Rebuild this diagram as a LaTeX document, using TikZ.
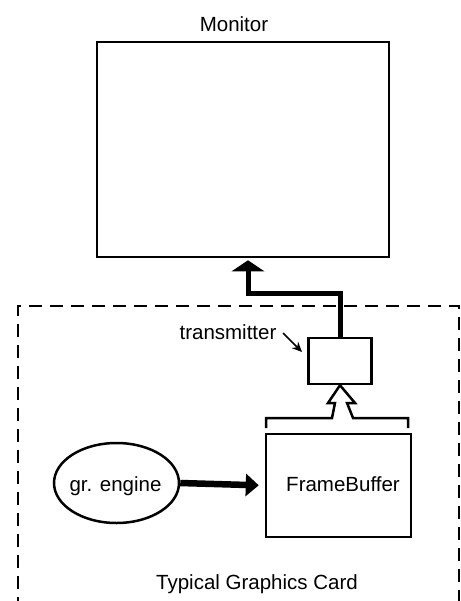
\documentclass[tikz,border=0pt]{standalone}
\usepackage{fontspec}
\setmainfont{Liberation Sans}
\usetikzlibrary{arrows.meta,shapes.geometric,calc}
\begin{document}
\begin{tikzpicture}[x=1pt,y=-1pt,
  every node/.style={font=\fontsize{20.5}{24}\selectfont, inner sep=0pt},
  boxstyle/.style={draw, line width=2.5pt, rectangle},
  lbl/.style={anchor=base},
  thickarrow/.style={line width=5pt, -{Triangle[width=32pt,length=11pt]}},
  feedarrow/.style={line width=6.5pt, -{Triangle[width=22pt,length=13pt]}},
  hollow/.style={draw, line width=2.5pt, line join=miter},
  border/.style={line width=2pt, dash pattern=on 13pt off 8pt}]
\useasboundingbox (0,0) rectangle (460,601);

% nodes
\node[boxstyle, minimum width=292pt, minimum height=215pt] (mon) at (243,149.5) {};
\node[lbl] (monlbl) at (234,32) {Monitor};
\node[boxstyle, minimum width=63pt, minimum height=46pt] (trans) at (340,361) {};
\node[lbl] (translbl) at (228,339) {transmitter};
\node[boxstyle, minimum width=145pt, minimum height=103pt] (fb) at (338.5,485.5) {};
\node[lbl] (fblbl) at (343,491) {FrameBuffer};
\node[draw, ellipse, line width=2.5pt, minimum width=125pt, minimum height=80pt] (eng) at (116.5,483) {};
\node[lbl] (englbl) at (115.5,491) {gr. engine};
\node[lbl] (cardlbl) at (257,589) {Typical Graphics Card};

% card border (open at the bottom)
\draw[border] (18,610) -- (18,306) -- (459,306) -- (459,610);

% transmitter -> monitor
\coordinate (bend) at (248,293);
\draw[thickarrow] (trans.north) |- (bend) -- ($(bend |- mon.south)+(0,2)$);

% gr. engine -> framebuffer
\draw[feedarrow, shorten >=6pt] (eng.east) -- (fb.west);

% pointer to transmitter
\coordinate (pa) at (283,333);
\coordinate (pb) at (302,352);
\draw[line width=1.5pt, -{Stealth[width=9pt,length=10pt]}] (pa) -- (pb);

% hollow arrow from framebuffer to transmitter
\draw[hollow] (266,428) -- (266,418) -- (332,418) -- (335,403) -- (328,403)
  -- (trans.south) -- (355,403) -- (347,403) -- (353,418) -- (408,418) -- (408,428);
\end{tikzpicture}
\end{document}
